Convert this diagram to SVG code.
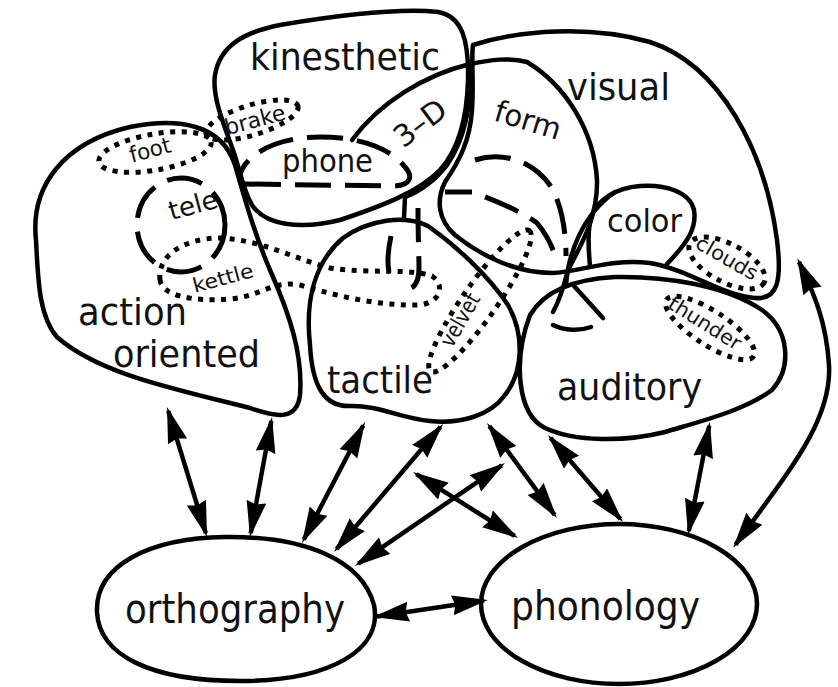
<svg xmlns="http://www.w3.org/2000/svg" width="838" height="687" viewBox="0 0 838 687">
<style>
.s{fill:none;stroke:#000;stroke-width:4.5;stroke-linejoin:round;stroke-linecap:round}
.dot{fill:none;stroke:#000;stroke-width:5;stroke-dasharray:5 6.5}
.dash{fill:none;stroke:#000;stroke-width:5;stroke-dasharray:36 14}
.a{fill:none;stroke:#000;stroke-width:4.5;marker-start:url(#ah);marker-end:url(#ah)}
.t{font-family:"DejaVu Sans Condensed","DejaVu Sans",sans-serif;fill:#111}
</style>
<defs>
<marker id="ah" markerUnits="userSpaceOnUse" markerWidth="40" markerHeight="22" refX="32" refY="10" orient="auto-start-reverse" viewBox="0 0 40 22">
<path d="M0,0 L36,10 L0,20 L3,10 Z" fill="#000"/>
</marker>
</defs>
<rect width="838" height="687" fill="#fff"/>

<g id="action-oriented">
<path class="s" d="M36,240 C30,185 65,142 130,127 C180,117 222,125 235,165 C245,200 255,235 270,270 C290,315 303,355 300,395 C297,420 278,418 250,408 C180,390 100,375 57,337 C38,315 38,275 36,240 Z"/>
<text class="t" x="78" y="325" font-size="38" textLength="109" lengthAdjust="spacingAndGlyphs">action</text>
<text class="t" x="113" y="367" font-size="38" textLength="147" lengthAdjust="spacingAndGlyphs">oriented</text>
</g>

<g id="kinesthetic">
<path class="s" d="M233,150 C222,120 212,95 215,75 C220,45 245,32 280,25 C340,15 400,8 438,12 C462,16 469,40 468,80 C467,118 458,150 440,170 C418,192 385,205 340,220 C300,230 265,225 252,205 C243,190 240,170 233,150 Z"/>
<text class="t" x="250" y="70" font-size="38" textLength="190" lengthAdjust="spacingAndGlyphs">kinesthetic</text>
</g>

<g id="visual">
<path class="s" d="M473,45 C520,30 590,25 650,42 C720,65 765,150 777,240 C782,280 778,300 755,298 C720,295 690,270 650,263 C610,258 580,272 552,273 C515,273 480,255 455,235 C438,220 436,200 445,182 C460,160 470,140 472,110 C474,80 471,60 473,45 Z"/>
<text class="t" x="567" y="100" font-size="38" textLength="103" lengthAdjust="spacingAndGlyphs">visual</text>
</g>

<g id="three-d">
<path class="s" d="M352,140 C380,102 425,75 470,64 C472,105 464,140 447,165 C432,184 418,192 405,197 L404,218"/>
<text class="t" transform="translate(420,123) rotate(-37)" text-anchor="middle" dominant-baseline="central" font-size="30" textLength="58" lengthAdjust="spacingAndGlyphs">3–D</text>
</g>

<g id="form">
<path class="s" d="M470,64 C490,60 510,57 527,62 C565,85 594,130 597,180 C598,220 578,250 568,270 C564,285 561,298 553,312"/>
<path class="s" d="M574,286 L603,318"/>
<text class="t" transform="translate(528,120) rotate(17)" text-anchor="middle" dominant-baseline="central" font-size="30" textLength="68" lengthAdjust="spacingAndGlyphs">form</text>
</g>

<g id="color">
<path class="s" d="M590,266 C588,245 588,225 592,215 C598,200 615,188 640,186 C665,184 690,192 694,210 C697,228 688,242 667,264"/>
<path class="s" d="M566,285 C568,255 582,215 615,192"/>
<text class="t" x="607" y="232" font-size="32" textLength="75" lengthAdjust="spacingAndGlyphs">color</text>
</g>

<g id="auditory">
<path class="s" d="M530,315 C545,290 575,279 615,277 C665,276 725,285 762,310 C790,330 792,368 772,390 C745,410 705,420 665,432 C625,442 575,442 545,428 C517,414 513,360 530,315 Z"/>
<text class="t" x="557" y="400" font-size="38" textLength="145" lengthAdjust="spacingAndGlyphs">auditory</text>
</g>

<g id="tactile">
<path class="s" d="M310,345 C305,300 315,262 343,238 C368,220 405,214 428,226 C455,245 488,275 508,305 C525,335 523,372 505,395 C490,416 460,424 430,421 C400,418 378,405 350,406 C322,407 312,382 310,345 Z"/>
<text class="t" x="327" y="393" font-size="38" textLength="106" lengthAdjust="spacingAndGlyphs">tactile</text>
</g>

<g id="phone">
<path class="dash" d="M245,184 L392,186 C410,186 414,177 405,167 C390,148 360,137 320,137 C282,137 255,150 244,166 C238,176 238,184 245,184 Z"/>
<text class="t" x="282" y="172" font-size="32" textLength="91" lengthAdjust="spacingAndGlyphs">phone</text>
</g>

<g id="tele">
<ellipse class="dash" cx="181" cy="225" rx="44" ry="47"/>
<text class="t" transform="translate(193,205) rotate(-15)" text-anchor="middle" dominant-baseline="central" font-size="26" textLength="50" lengthAdjust="spacingAndGlyphs">tele</text>
</g>

<g id="dashed-tactile">
<path class="dash" style="stroke-dasharray:34 14" d="M418,208 C418,235 419,255 419,268 C419,285 412,291 402,289 M391,236 C388,250 387,262 389,272"/>
</g>

<g id="dashed-mid">
<path class="dash" d="M475,160 C500,152 532,158 552,188 C562,207 566,232 566,256"/>
<path class="dash" style="stroke-dasharray:27 14 36 14 40 14" d="M445,192 L472,192 C495,200 522,212 537,223 C547,235 552,246 556,258"/>
<path class="s" d="M553,325 C565,331 580,331 591,327"/>
</g>

<g id="foot">
<ellipse class="dot" cx="155" cy="152" rx="57" ry="18" transform="rotate(-10 155 152)"/>
<text class="t" transform="translate(150,150) rotate(-15)" text-anchor="middle" dominant-baseline="central" font-size="22" textLength="42" lengthAdjust="spacingAndGlyphs">foot</text>
</g>

<g id="brake">
<ellipse class="dot" cx="252" cy="120" rx="48" ry="15" transform="rotate(-17 252 120)"/>
<text class="t" transform="translate(255,120) rotate(-15)" text-anchor="middle" dominant-baseline="central" font-size="22" textLength="62" lengthAdjust="spacingAndGlyphs">brake</text>
</g>

<g id="kettle">
<path class="dot" d="M160,280 C157,255 185,238 220,238 C262,240 292,258 330,268 C370,274 410,268 432,276 C446,286 440,302 420,305 C380,306 340,297 300,285 C272,280 262,296 230,299 C190,302 162,295 160,280 Z"/>
<text class="t" transform="translate(223,278) rotate(-15)" text-anchor="middle" dominant-baseline="central" font-size="20" textLength="62" lengthAdjust="spacingAndGlyphs">kettle</text>
</g>

<g id="velvet">
<ellipse class="dot" cx="480" cy="301" rx="86" ry="17" transform="rotate(-55 480 301)"/>
<text class="t" transform="translate(460,320) rotate(-60)" text-anchor="middle" dominant-baseline="central" font-size="22" textLength="58" lengthAdjust="spacingAndGlyphs">velvet</text>
</g>

<g id="clouds">
<ellipse class="dot" cx="727" cy="263" rx="42" ry="19" transform="rotate(28 727 263)"/>
<text class="t" transform="translate(727,258) rotate(30)" text-anchor="middle" dominant-baseline="central" font-size="20" textLength="68" lengthAdjust="spacingAndGlyphs">clouds</text>
</g>

<g id="thunder">
<ellipse class="dot" cx="710" cy="328" rx="52" ry="17" transform="rotate(33 710 328)"/>
<text class="t" transform="translate(705,323) rotate(32)" text-anchor="middle" dominant-baseline="central" font-size="20" textLength="82" lengthAdjust="spacingAndGlyphs">thunder</text>
</g>

<g id="orthography">
<path class="s" d="M97,612 C95,565 150,538 225,537 C305,536 362,560 374,605 C383,650 330,681 240,681 C150,681 99,655 97,612 Z"/>
<text class="t" x="125" y="623" font-size="40" textLength="220" lengthAdjust="spacingAndGlyphs">orthography</text>
</g>

<g id="phonology">
<ellipse class="s" cx="619" cy="604" rx="138" ry="80"/>
<text class="t" x="511" y="620" font-size="40" textLength="189" lengthAdjust="spacingAndGlyphs">phonology</text>
</g>

<g id="connectors">
<line class="a" x1="168.2" y1="410.8" x2="205.8" y2="533.2"/>
<line class="a" x1="271.3" y1="420.9" x2="250.7" y2="533.1"/>
<line class="a" x1="363.2" y1="425.5" x2="303.8" y2="539.5"/>
<line class="a" x1="440.4" y1="427" x2="336.6" y2="549"/>
<line class="a" x1="501.7" y1="465.3" x2="358.3" y2="563.7"/>
<line class="a" x1="416.4" y1="474.1" x2="514.6" y2="535.9"/>
<line class="a" x1="489.4" y1="426.2" x2="554.6" y2="514.8"/>
<line class="a" x1="550.6" y1="438" x2="620.4" y2="519"/>
<line class="a" x1="709.2" y1="425.9" x2="688.8" y2="531.1"/>
<line class="a" x1="377" y1="616.4" x2="484" y2="600.6"/>
<path class="a" d="M735.5,544.6 C790,470 832,420 829,365 C826,318 812,290 799,262"/>
</g>
</svg>
